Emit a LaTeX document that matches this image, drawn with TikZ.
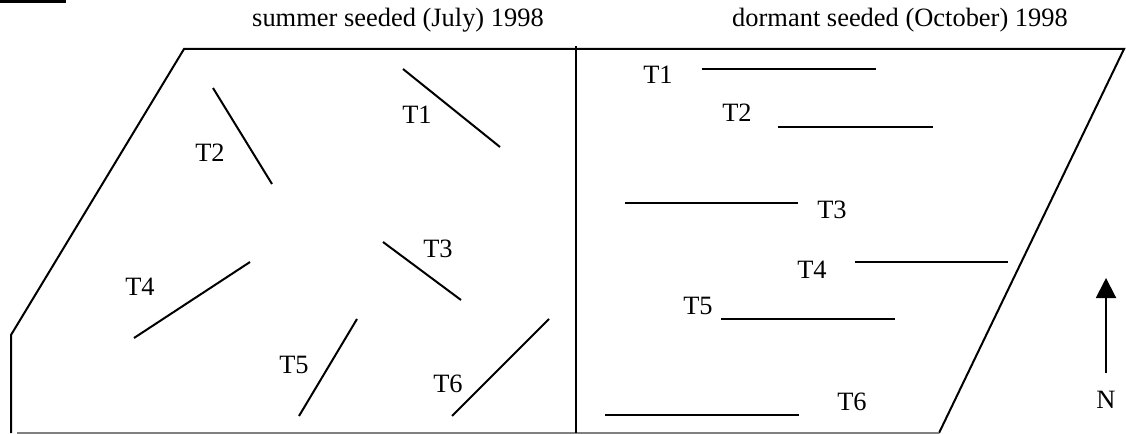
\documentclass[tikz,border=0pt]{standalone}
\usepackage{fontspec}
\setmainfont{Liberation Serif}
\usetikzlibrary{arrows.meta}
\begin{document}
\begin{tikzpicture}[x=0.45pt, y=-0.45pt, line width=0.9pt,
    lbl/.style={anchor=base, inner sep=0pt, font=\fontsize{11.9}{14}\selectfont},
    northarrow/.style={-{Triangle[length=9pt, width=9pt]}}]
    \useasboundingbox (0,0) rectangle (1126,433);

    % Corner bar
    \fill[black] (0,0) rectangle (66,3);

    % Titles
    \node[lbl] (summer)  at (398,27) {summer seeded (July) 1998};
    \node[lbl] (dormant) at (900,27) {dormant seeded (October) 1998};

    % Field outline
    \draw (11,433) -- (11,335) -- (184,49) -- (1124,49) -- (939,433);
    \draw[black!50] (17,432.5) -- (939,432.5);
    \draw (576,46) -- (576,433);

    % Summer seeded transects (left)
    \draw (403,69)  -- (500,147); \node[lbl] (sT1) at (417,123) {T1};
    \draw (213,88)  -- (272,184); \node[lbl] (sT2) at (210,161) {T2};
    \draw (383,242) -- (461,300); \node[lbl] (sT3) at (438,257) {T3};
    \draw (134,338) -- (250,262); \node[lbl] (sT4) at (140,295) {T4};
    \draw (357,319) -- (299,416); \node[lbl] (sT5) at (294,373) {T5};
    \draw (549,319) -- (452,416); \node[lbl] (sT6) at (448,392) {T6};

    % Dormant seeded transects (right)
    \draw (702,69)  -- (876,69);  \node[lbl] (dT1) at (658,84)  {T1};
    \draw (778,127) -- (933,127); \node[lbl] (dT2) at (737,122) {T2};
    \draw (625,203) -- (798,203); \node[lbl] (dT3) at (832,218) {T3};
    \draw (855,262) -- (1008,262); \node[lbl] (dT4) at (812,278) {T4};
    \draw (721,319) -- (895,319); \node[lbl] (dT5) at (698,314) {T5};
    \draw (605,415) -- (799,415); \node[lbl] (dT6) at (852,410) {T6};

    % North arrow
    \node[lbl] (N) at (1106,408) {N};
    \coordinate (ntip) at (1106,278);
    \draw[northarrow] ([yshift=7.4pt]N.north) -- (ntip);
\end{tikzpicture}
\end{document}
